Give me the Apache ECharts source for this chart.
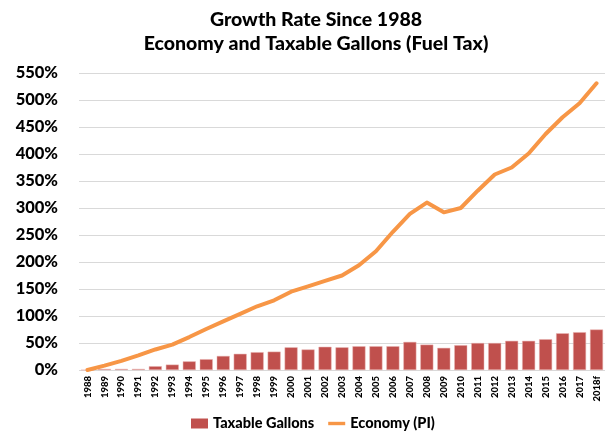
<!DOCTYPE html>
<html>
<head>
<meta charset="utf-8">
<script src="https://cdn.jsdelivr.net/npm/echarts@6/dist/echarts.min.js"></script>
<style>
  html, body { margin: 0; padding: 0; background: #fff; }
  #chart { width: 605px; height: 433px; }
</style>
</head>
<body>
<div id="chart"></div>
<script>
// categories
var years = ["1988", "1989", "1990", "1991", "1992", "1993", "1994", "1995", "1996", "1997",
  "1998", "1999", "2000", "2001", "2002", "2003", "2004", "2005", "2006", "2007",
  "2008", "2009", "2010", "2011", "2012", "2013", "2014", "2015", "2016", "2017", "2018f"];

// growth since 1988, in percent
var taxableGallons = [0, 2, 2, 2, 7, 10, 16, 20, 26, 30,
  33, 34, 42, 38, 43, 42, 44, 44, 44, 52,
  47, 41, 46, 50, 50, 54, 54, 57, 68, 70, 75];
var economyPI = [0, 8, 17, 27, 38, 47, 61, 76, 90, 104,
  118, 129, 145, 155, 165, 175, 194, 220, 256, 289,
  310, 292, 300, 332, 362, 375, 401, 437, 468, 494, 531];

var yTicks = [0, 50, 100, 150, 200, 250, 300, 350, 400, 450, 500, 550];

var fontFamily = "Lato, 'Open Sans', sans-serif";
var chart = echarts.init(document.getElementById("chart"));

var option = {
  animation: false,
  textStyle: { fontFamily: fontFamily },
  title: {
    text: "Growth Rate Since 1988\nEconomy and Taxable Gallons (Fuel Tax)",
    left: 311,
    textAlign: "center",
    top: 3,
    textStyle: {
      fontFamily: fontFamily,
      fontSize: 19.5,
      fontWeight: 900,
      color: "#000",
      lineHeight: 24,
    },
  },
  legend: {
    top: 411,
    left: 186,
    itemGap: 14,
    itemWidth: 17,
    itemHeight: 10,
    textStyle: { fontFamily: fontFamily, fontSize: 14.5, fontWeight: 900, color: "#000" },
    data: [
      { name: "Taxable Gallons", icon: "rect", itemStyle: { borderWidth: 0 } },
      { name: "Economy (PI)", icon: "path://M0,0 L20,0 L20,4 L0,4 Z" },
    ],
  },
  grid: { left: 79, top: 73, bottom: 63, right: -3 },
  xAxis: {
    type: "category",
    data: years,
    axisLine: { show: false },
    axisTick: { show: false },
    axisLabel: {
      rotate: 90,
      interval: 0,
      margin: 6,
      fontFamily: fontFamily,
      fontSize: 9.5,
      fontWeight: 900,
      color: "#000",
    },
  },
  yAxis: {
    type: "value",
    min: yTicks[0],
    max: yTicks[yTicks.length - 1],
    interval: 50,
    axisLine: { show: false },
    axisTick: { show: false },
    splitLine: { lineStyle: { color: "#d9d9d9", width: 1 } },
    axisLabel: {
      margin: 21,
      fontFamily: fontFamily,
      fontSize: 16.5,
      fontWeight: 900,
      color: "#000",
      formatter: "{value}%",
    },
  },
  series: [
    {
      name: "Taxable Gallons",
      type: "bar",
      data: taxableGallons,
      barWidth: 13,
      itemStyle: { color: "#c0504d", borderColor: "#e9b5b3", borderWidth: 0.5 },
    },
    {
      name: "Economy (PI)",
      type: "line",
      data: economyPI,
      symbol: "none",
      lineStyle: { color: "#f79646", width: 4, join: "round", cap: "round" },
      itemStyle: { color: "#f79646" },
    },
  ],
};

chart.setOption(option);
</script>
</body>
</html>
